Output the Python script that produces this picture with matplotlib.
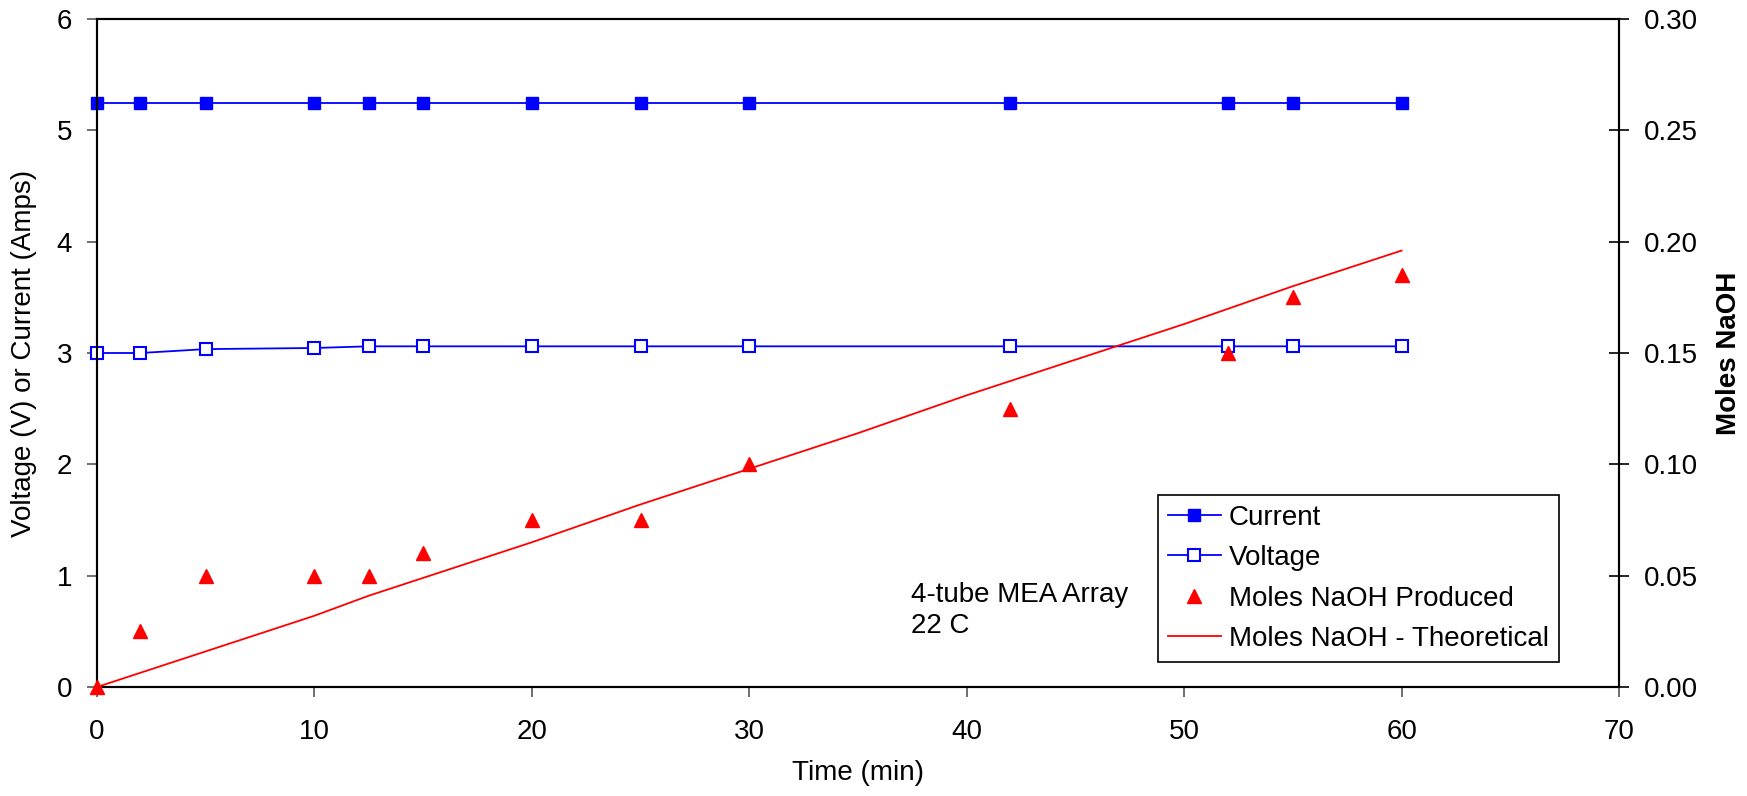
import numpy as np
import matplotlib
matplotlib.use('Agg')
import matplotlib.pyplot as plt

plt.rcParams['font.family'] = ['Liberation Sans', 'DejaVu Sans']

# data
t = [0, 2, 5, 10, 12.5, 15, 20, 25, 30, 42, 52, 55, 60]
current = [5.25, 5.25, 5.25, 5.25, 5.25, 5.25, 5.25, 5.25, 5.25, 5.25, 5.25, 5.25, 5.25]
voltage = [3.0, 3.0, 3.035, 3.045, 3.06, 3.06, 3.06, 3.06, 3.06, 3.06, 3.06, 3.06, 3.06]
naoh = [0.0, 0.025, 0.05, 0.05, 0.05, 0.06, 0.075, 0.075, 0.10, 0.125, 0.15, 0.175, 0.185]

t_theo = [0, 2.5, 5, 7.5, 10, 12.5, 15, 17.5, 20, 25, 30, 35, 40, 45, 50, 55, 60]
naoh_theo = [0.0, 0.008, 0.016, 0.024, 0.032, 0.041, 0.049, 0.057, 0.065,
             0.082, 0.098, 0.114, 0.131, 0.147, 0.163, 0.180, 0.196]

blue = '#0000FF'
red = '#FF0000'
fs = 20

fig = plt.figure(figsize=(17.47, 7.96), dpi=100)
ax = fig.add_axes([97/1747, 1-687/796, (1619-97)/1747, (687-19)/796])
ax2 = ax.twinx()

l1, = ax.plot(t, current, '-s', color=blue, lw=1.3, ms=9, mfc=blue, mec=blue,
              clip_on=False, zorder=5, label='Current')
l2, = ax.plot(t, voltage, '-s', color=blue, lw=1.3, ms=9, mfc='white', mec=blue,
              mew=1.5, clip_on=False, zorder=5, label='Voltage')
l3, = ax2.plot(t, naoh, '^', color=red, ms=10, ls='none', clip_on=False,
               zorder=6, label='Moles NaOH Produced')
l4, = ax2.plot(t_theo, naoh_theo, '-', color=red, lw=1.3, clip_on=False,
               zorder=4, label='Moles NaOH - Theoretical')

ax.set_xlim(0, 70)
ax.set_ylim(0, 6)
ax2.set_ylim(0, 0.30)
ax.set_xticks(np.arange(0, 71, 10))
ax.set_yticks(np.arange(0, 7, 1))
ax2.set_yticks(np.arange(0, 0.31, 0.05))
ax2.set_yticklabels(['%.2f' % v for v in np.arange(0, 0.31, 0.05)])

ax.tick_params(axis='both', labelsize=fs, length=7, width=1.2, color='#555555')
ax.tick_params(axis='y', pad=11)
ax.tick_params(axis='x', pad=16)
ax2.tick_params(axis='y', labelsize=fs, direction='inout', length=14, width=1.2, pad=11)

for a in (ax, ax2):
    for s in a.spines.values():
        s.set_linewidth(1.5)

ax.set_xlabel('Time (min)', fontsize=fs, labelpad=11)
ax.set_ylabel('Voltage (V) or Current (Amps)', fontsize=fs, labelpad=14)
ax2.set_ylabel('Moles NaOH', fontsize=fs, fontweight='bold', labelpad=13)

ax.text(37.45, 0.94, '4-tube MEA Array\n22 C', fontsize=fs, va='top', ha='left',
        linespacing=1.25)

leg = ax2.legend(handles=[l1, l2, l3, l4], loc='upper left',
                 bbox_to_anchor=(1158/1747, 1-495/796), bbox_transform=fig.transFigure,
                 fontsize=fs, frameon=True, fancybox=False, framealpha=1,
                 edgecolor='black', handlelength=1.9, handletextpad=0.3,
                 labelspacing=0.52, borderpad=0.35, borderaxespad=0)
leg.get_frame().set_linewidth(1.2)

fig.savefig('out.png', dpi=100)
